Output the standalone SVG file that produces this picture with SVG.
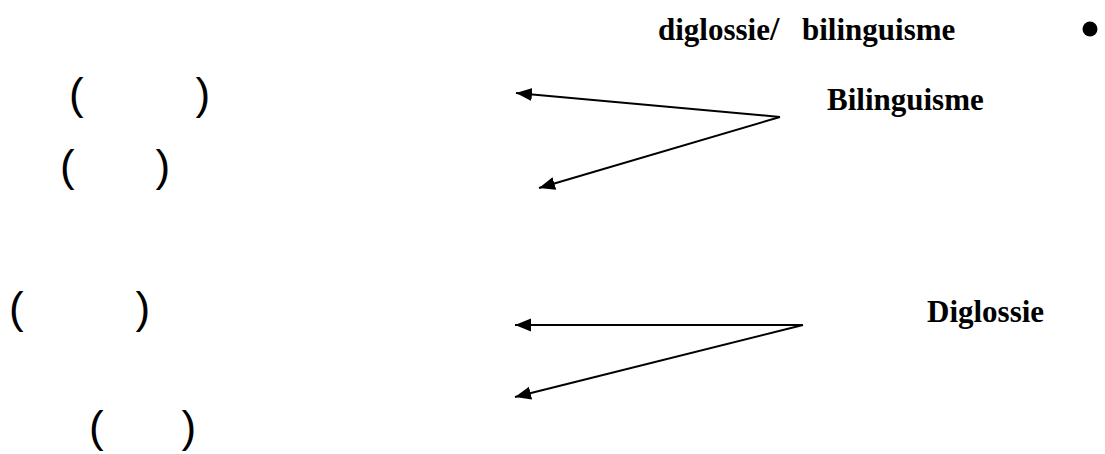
<svg xmlns="http://www.w3.org/2000/svg" width="1105" height="454" viewBox="0 0 1105 454">
  <style>
    .lbl { font-family: "Liberation Serif", "Times New Roman", serif; font-weight: bold; font-size: 31px; fill: #000; }
    .par { font-family: "Liberation Sans", Arial, sans-serif; font-size: 44px; fill: #000; }
    .conn { stroke: #000; stroke-width: 2; fill: none; marker-end: url(#ah); }
  </style>
  <defs>
    <marker id="ah" markerUnits="userSpaceOnUse" markerWidth="17" markerHeight="14" refX="16" refY="7" orient="auto">
      <path d="M0,0.5 L16,7 L0,13.5 z" fill="#000"/>
    </marker>
  </defs>
  <rect width="1105" height="454" fill="#fff"/>

  <g id="title">
    <text class="lbl" x="658" y="40">diglossie<tspan font-size="34">/</tspan><tspan x="802">bilinguisme</tspan></text>
    <circle cx="1090" cy="29" r="7.5" fill="#000"/>
  </g>

  <g id="bilinguisme">
    <text class="lbl" x="827" y="110">Bilinguisme</text>
  </g>

  <g id="diglossie">
    <text class="lbl" x="927" y="322">Diglossie</text>
  </g>

  <g id="paren1">
    <text class="par" x="69" y="109">(</text>
    <text class="par" x="195.5" y="109">)</text>
  </g>
  <g id="paren2">
    <text class="par" x="60" y="181">(</text>
    <text class="par" x="155.5" y="181">)</text>
  </g>
  <g id="paren3">
    <text class="par" x="9" y="323">(</text>
    <text class="par" x="135.5" y="323">)</text>
  </g>
  <g id="paren4">
    <text class="par" x="89" y="442">(</text>
    <text class="par" x="181.5" y="442">)</text>
  </g>

  <g id="connectors">
    <line class="conn" x1="780" y1="117" x2="516" y2="93"/>
    <line class="conn" x1="780" y1="117" x2="539" y2="188"/>
    <line class="conn" x1="803" y1="325" x2="515" y2="325"/>
    <line class="conn" x1="803" y1="325" x2="515" y2="397"/>
  </g>
</svg>
